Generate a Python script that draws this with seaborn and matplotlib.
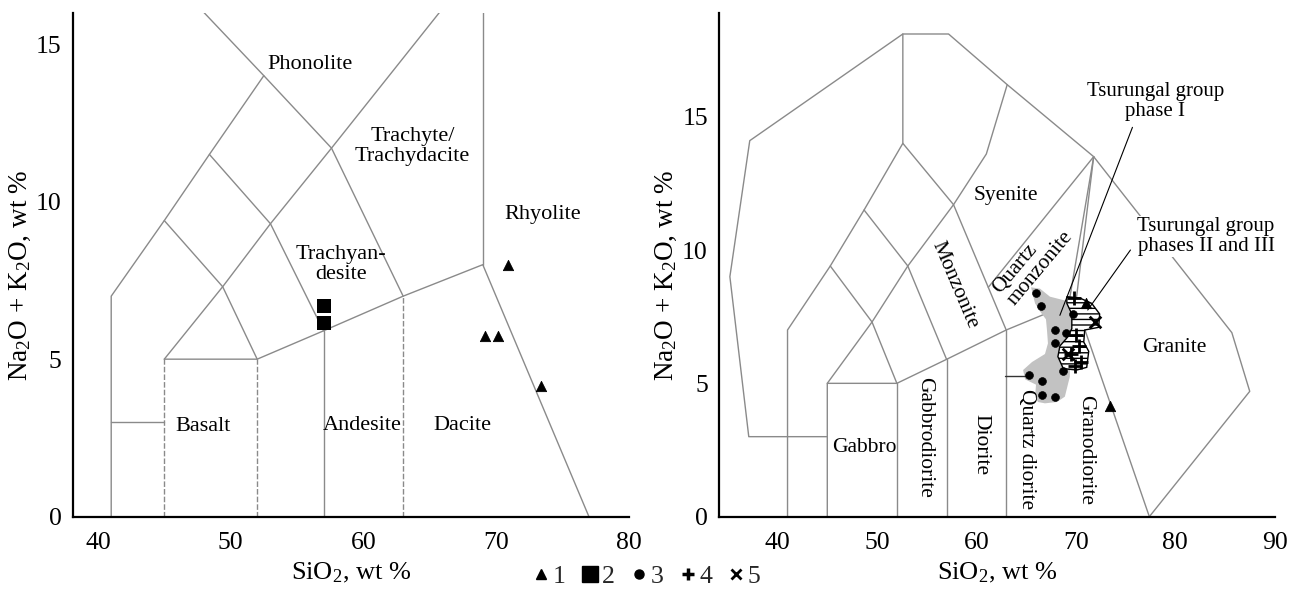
import matplotlib
matplotlib.use('Agg')
import matplotlib.pyplot as plt
import seaborn as sns
import pandas as pd
from matplotlib.lines import Line2D
from matplotlib.patches import Polygon

# ---------------- data ----------------
# Left panel (TAS, volcanic)
tri_x = [70.9, 69.15, 70.15, 73.4]
tri_y = [8.0, 5.75, 5.75, 4.15]
sq_x = [57.05, 57.05]
sq_y = [6.68, 6.14]

tas_solid = [
    [(41, 0), (41, 7), (45, 9.4), (48.4, 11.5), (52.5, 14), (47.55, 16.2)],
    [(41, 3), (45, 3)],
    [(45, 5), (52, 5), (57, 5.9), (63, 7), (69, 8), (77, 0)],
    [(57, 0), (57, 5.9)],
    [(45, 5), (49.4, 7.3), (53, 9.3), (57.6, 11.7), (66.1, 16.2)],
    [(45, 9.4), (49.4, 7.3), (52, 5)],
    [(48.4, 11.5), (53, 9.3), (57, 5.9)],
    [(52.5, 14), (57.6, 11.7), (63, 7)],
    [(69, 8), (69, 16.2)],
]
tas_dashed = [[(45, 0), (45, 5)], [(52, 0), (52, 5)], [(63, 0), (63, 7)]]

tas_names = ['Phonolite', 'Trachyte/\nTrachydacite', 'Rhyolite', 'Trachyan-\ndesite',
             'Basalt', 'Andesite', 'Dacite']
tas_name_x = [56.0, 63.7, 73.5, 58.3, 47.9, 59.9, 67.5]
tas_name_y = [14.35, 11.75, 9.58, 8.0, 2.85, 2.9, 2.88]

# Right panel (plutonic)
circ_x = [66.0, 66.5, 69.7, 67.9, 69.0, 67.9, 65.3, 66.6, 68.7, 66.6, 67.9]
circ_y = [8.4, 7.9, 7.6, 7.0, 6.9, 6.5, 5.3, 5.1, 5.45, 4.55, 4.5]
plus_x = [69.8, 70.0, 70.3, 69.5, 70.5, 69.9]
plus_y = [8.2, 6.8, 6.4, 6.1, 5.8, 5.65]
cross_x = [71.9, 69.2]
cross_y = [7.3, 6.1]
tri2_x = [71.0, 73.4]
tri2_y = [8.0, 4.15]

gray_x = [65.5, 66.4, 67.4, 69.5, 69.6, 69.4, 69.4, 68.9, 68.1, 66.9, 66.2, 65.9, 66.0,
          64.9, 64.7, 65.6, 66.9, 67.2, 67.1, 67.0, 66.4, 65.9]
gray_y = [8.6, 8.55, 8.25, 8.05, 7.0, 6.0, 5.25, 4.5, 4.3, 4.25, 4.3, 4.5, 4.95,
          5.15, 5.5, 5.8, 6.1, 6.5, 7.0, 7.4, 7.7, 8.0]
hatch_x = [69.1, 70.4, 71.6, 72.4, 72.3, 70.9, 70.8, 71.3, 71.1, 70.1, 68.75, 68.2, 68.4,
           69.1, 69.6, 69.6, 69.1]
hatch_y = [8.25, 8.2, 8.0, 7.6, 7.1, 7.0, 6.55, 6.2, 5.6, 5.5, 5.55, 6.0, 6.4,
           6.7, 7.05, 7.6, 8.0]

plut_lines = [
    [(45, 3), (37.1, 3.0), (35.2, 9.0), (37.2, 14.1), (52.6, 18.1), (57.2, 18.1),
     (63.1, 16.2), (71.8, 13.5), (85.7, 6.9), (87.5, 4.7), (77.4, 0)],
    [(41, 0), (41, 7), (45.3, 9.4), (48.7, 11.5), (52.6, 14), (52.6, 18.1)],
    [(45, 0), (45, 5), (52, 5), (57, 5.9), (63, 7), (69.5, 8)],
    [(52, 0), (52, 5)], [(57, 0), (57, 5.9)], [(63, 0), (63, 7)],
    [(45, 5), (49.5, 7.3), (53.1, 9.4), (57.7, 11.7), (61.0, 13.6), (63.1, 16.2)],
    [(45.3, 9.4), (49.5, 7.3), (52, 5)],
    [(48.7, 11.5), (53.1, 9.4), (57, 5.9)],
    [(52.6, 14), (57.7, 11.7), (63, 7)],
    [(61.2, 8.6), (71.8, 13.5)],
    [(71.8, 13.5), (69.3, 8.0)],
    [(71.8, 13.5), (70.0, 8.0), (77.4, 0)],
]

plut_names = ['Syenite', 'Monzonite', 'Quartz\nmonzonite', 'Gabbro', 'Gabbrodiorite',
              'Diorite', 'Quartz diorite', 'Granodiorite', 'Granite']
plut_name_x = [63.0, 57.8, 65.7, 48.7, 54.8, 60.5, 65.0, 71.0, 79.9]
plut_name_y = [12.05, 8.7, 9.55, 2.6, 2.98, 2.7, 2.55, 2.49, 6.36]
plut_name_rot = [0, -67, 50, 0, -90, -90, -90, -90, 0]

legend_labels = ['1', '2', '3', '4', '5']

# ---------------- style ----------------
sns.set_theme(style='white')
plt.rcParams['font.family'] = ['Liberation Serif', 'DejaVu Serif']
plt.rcParams['mathtext.fontset'] = 'custom'
plt.rcParams['mathtext.rm'] = 'Liberation Serif'
plt.rcParams['mathtext.it'] = 'Liberation Serif:italic'
plt.rcParams['hatch.linewidth'] = 1.0

LINE_C = '#8a8a8a'

fig = plt.figure(figsize=(12.94, 5.89), dpi=100)
ax1 = fig.add_axes([0.0562, 0.1228, 0.4297, 0.8557])
ax2 = fig.add_axes([0.5556, 0.1228, 0.4294, 0.8557])


def style(ax, xlim, ylim, xticks, yticks):
    ax.set_xlim(*xlim)
    ax.set_ylim(*ylim)
    ax.set_xticks(xticks)
    ax.set_yticks(yticks)
    sns.despine(ax=ax)
    for s in ['left', 'bottom']:
        ax.spines[s].set_linewidth(1.6)
        ax.spines[s].set_color('black')
    ax.tick_params(direction='in', length=7, width=1.5, colors='black',
                   labelsize=18.5)
    ax.tick_params(axis='x', pad=11)
    ax.tick_params(axis='y', pad=8)
    ax.set_xlabel('SiO$_2$, wt %', fontsize=19, labelpad=5, color='black')
    ax.set_ylabel('Na$_2$O + K$_2$O, wt %', fontsize=19.5, labelpad=1, color='black')
    ax.yaxis.set_label_coords(-0.072, 0.478)
    ax.grid(False)


def draw(ax, lines, **kw):
    for ln in lines:
        xs = [p[0] for p in ln]
        ys = [p[1] for p in ln]
        ax.plot(xs, ys, color=LINE_C, lw=1.0, zorder=1, **kw)


# ---- left panel ----
style(ax1, (38.1, 80), (0, 16), [40, 50, 60, 70, 80], [0, 5, 10, 15])
draw(ax1, tas_solid)
draw(ax1, tas_dashed, ls=(0, (4, 1.5)))
for name, x, y in zip(tas_names, tas_name_x, tas_name_y):
    ax1.text(x, y, name, ha='center', va='center', fontsize=16, linespacing=1.05,
             color='black')
sns.scatterplot(x=tri_x, y=tri_y, marker='^', s=55, color='black', edgecolor='black',
                ax=ax1, zorder=5, legend=False)
sns.scatterplot(x=sq_x, y=sq_y, marker='s', s=105, color='black', edgecolor='none',
                ax=ax1, zorder=5, legend=False)

# ---- right panel ----
style(ax2, (34.1, 90), (0, 18.9), [40, 50, 60, 70, 80, 90], [0, 5, 10, 15])
draw(ax2, plut_lines)
for name, x, y, r in zip(plut_names, plut_name_x, plut_name_y, plut_name_rot):
    ax2.text(x, y, name, ha='center', va='center', fontsize=15.5, rotation=r,
             rotation_mode='anchor', linespacing=1.0, multialignment='left',
             color='black')

ax2.add_patch(Polygon(list(zip(gray_x, gray_y)), closed=True, facecolor='#c2c2c2',
                      edgecolor='none', zorder=2))
ax2.add_patch(Polygon(list(zip(hatch_x, hatch_y)), closed=True, facecolor='white',
                      edgecolor='black', hatch='---', lw=1.0, zorder=3))

sns.scatterplot(x=circ_x, y=circ_y, marker='o', s=32, color='black', edgecolor='black',
                ax=ax2, zorder=5, legend=False)
sns.scatterplot(x=plus_x, y=plus_y, marker='+', s=90, color='black', linewidth=2,
                ax=ax2, zorder=6, legend=False)
sns.scatterplot(x=cross_x, y=cross_y, marker='x', s=70, color='black', linewidth=2,
                ax=ax2, zorder=6, legend=False)
sns.scatterplot(x=tri2_x, y=tri2_y, marker='^', s=55, color='black', edgecolor='black',
                ax=ax2, zorder=6, legend=False)

# leader lines and annotation labels
ax2.plot([75.7, 68.4], [14.6, 7.55], color='black', lw=0.8, zorder=4)
ax2.plot([75.5, 71.2], [10.0, 7.75], color='black', lw=0.8, zorder=4)
ax2.plot([62.9, 65.4], [5.28, 5.28], color='#333333', lw=1.0, zorder=4)
ax2.text(78.0, 15.57, 'Tsurungal group\nphase I', ha='center', va='center',
         fontsize=15, linespacing=1.1, color='black')
ax2.text(83.1, 10.5, 'Tsurungal group\nphases II and III', ha='center', va='center',
         fontsize=15, linespacing=1.1, color='black',
         bbox=dict(facecolor='white', edgecolor='none', pad=0.5), zorder=4)

# ---- legend ----
handles = [
    Line2D([], [], marker='^', ls='', color='black', ms=7),
    Line2D([], [], marker='s', ls='', color='black', ms=12),
    Line2D([], [], marker='o', ls='', color='black', ms=6.5),
    Line2D([], [], marker='+', ls='', color='black', ms=9, mew=2.5),
    Line2D([], [], marker='x', ls='', color='black', ms=7, mew=2),
]
fig.legend(handles, legend_labels, ncol=5, loc='center',
           bbox_to_anchor=(0.5, 0.021), frameon=False, fontsize=18.5,
           handlelength=0.6, handletextpad=0.15, columnspacing=0.65,
           borderaxespad=0, borderpad=0)

fig.savefig('out.png', dpi=100)
